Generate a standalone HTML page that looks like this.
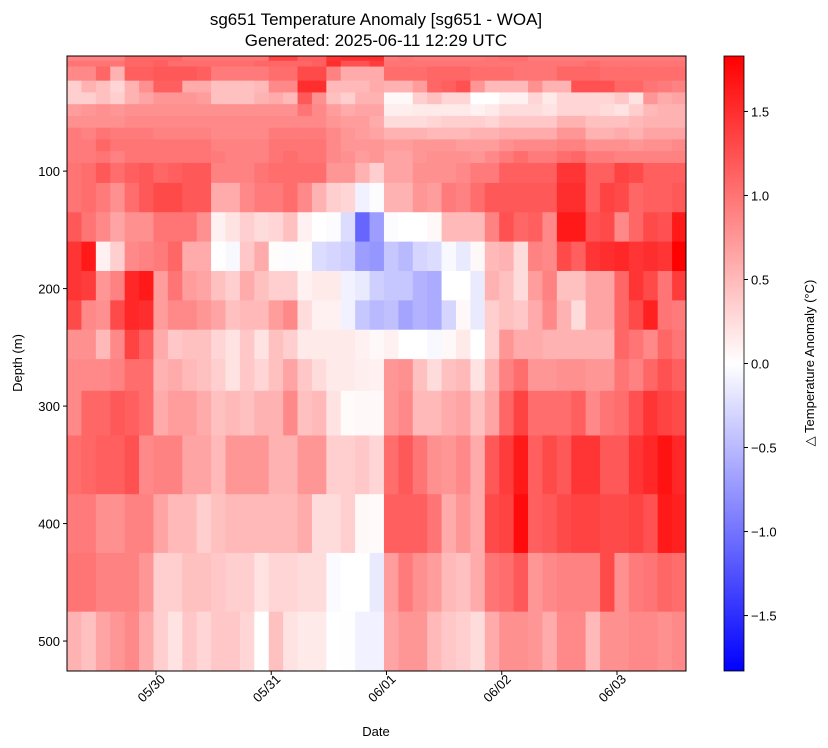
<!DOCTYPE html>
<html><head><meta charset="utf-8">
<style>
html,body{margin:0;padding:0;background:#fff;}
svg{display:block;font-family:"Liberation Sans","DejaVu Sans",sans-serif;}
</style></head>
<body>
<svg id="chart" width="828" height="748" viewBox="0 0 828 748">
  <text x="376" y="25" text-anchor="middle" font-size="17">sg651 Temperature Anomaly [sg651 - WOA]</text>
  <text x="376" y="46" text-anchor="middle" font-size="17">Generated: 2025-06-11 12:29 UTC</text>
  <g id="cells"></g>
  <rect x="67" y="56" width="619" height="615" fill="none" stroke="#000" stroke-width="1"/>
  <g id="xaxis"></g>
  <g id="yaxis"></g>
  <text x="376" y="736" text-anchor="middle" font-size="13">Date</text>
  <text transform="translate(22,363) rotate(-90)" text-anchor="middle" font-size="13">Depth (m)</text>
  <defs>
    <linearGradient id="bwr" x1="0" y1="1" x2="0" y2="0">
      <stop offset="0" stop-color="#0000ff"/>
      <stop offset="0.5" stop-color="#ffffff"/>
      <stop offset="1" stop-color="#ff0000"/>
    </linearGradient>
  </defs>
  <rect x="724" y="56" width="20" height="615" fill="url(#bwr)" stroke="#000" stroke-width="0.8"/>
  <g id="cbaxis"></g>
  <text transform="translate(814,363) rotate(-90)" text-anchor="middle" font-size="13">△ Temperature Anomaly (°C)</text>
</svg>
<script>
// time of first profile (days relative to 05/30 00:00) and profile spacing (days)
const timeStart = -0.772;
const timeStep = 0.125;
const dateTicks = [0, 1, 2, 3, 4];
const dateTickLabels = ["05/30", "05/31", "06/01", "06/02", "06/03"];
const depthEdges = [2,6,11,23,33,43,53,63,73,83,93,110,135,160,185,210,235,260,287,325,375,425,475,525];
const depthTicks = [100, 200, 300, 400, 500];
const cbTicks = [1.5, 1.0, 0.5, 0.0, -0.5, -1.0, -1.5];
const cbTickLabels = ["1.5", "1.0", "0.5", "0.0", "−0.5", "−1.0", "−1.5"];
const vmax = 1.83;
const anomaly = [
[.9,.9,.9,.9,1.1,1.1,1.1,1.1,1,1,1,1,1,1,1.35,1.35,1.15,1.15,1.45,1.5,1.5,1.5,.95,1,.95,.95,.95,.95,.95,1,1.05,1.05,.95,.95,.95,.95,.95,.95,.95,.95,.95,.95,.95],
[1,1,1,1,1.1,1.1,1.15,1.05,1.05,1.05,1.05,1.05,1.05,1.1,1.1,1.1,1.1,1.15,1.5,1.25,1.25,1.4,1,1,1,1,1,1,1,1,1,1,1,1,1,1,1.05,1,1,1,1,1,1],
[.85,.85,1.1,.55,1.15,1.15,1.2,1.2,1.2,1.15,.95,.95,.95,.95,1.05,1.05,1.3,1.3,.9,.6,.6,.6,1.05,1.05,1.05,1.1,1.1,1.1,1.05,1.05,1.05,1,1,1,1.1,1.1,1.1,1.05,1.05,1.05,1.05,1.05,1.05],
[.35,.55,.45,.3,.55,.8,1.15,1.15,.6,.6,.45,.45,.45,.5,.85,.85,1.5,1.5,.5,.5,.5,.6,.55,.55,.7,1.1,1.15,1.25,.75,.5,.5,.5,.8,.55,.55,1.25,1.25,1.25,1.1,1.1,1,.95,.9],
[.35,.35,.45,.35,.55,.65,.75,.75,.75,.7,.45,.45,.45,.55,.6,.5,1.2,.8,.45,.35,.55,.55,.05,.05,.35,.45,.3,.3,0,0,.1,.1,.3,.15,.3,.3,.3,.3,.4,.2,.75,.6,.65],
[.7,.75,.8,.75,.8,.8,.8,.8,.8,.8,.8,.8,.8,.8,.8,.8,1,.85,.7,.6,.65,.65,.12,.12,.15,.15,.15,.15,.1,.15,.25,.25,.25,.2,.3,.3,.3,.25,.2,.35,.5,.55,.55],
[.8,.8,.8,.8,.85,.85,.85,.85,.85,.85,.85,.85,.85,.85,.85,.85,.85,.85,.75,.7,.7,.6,.25,.25,.25,.3,.35,.35,.35,.3,.4,.4,.4,.4,.55,.55,.45,.45,.45,.5,.55,.55,.55],
[.95,.9,1,.95,.95,.95,.9,.9,.9,.9,.85,.85,.85,.85,.95,.95,.95,.95,.85,.75,.7,.65,.55,.55,.55,.5,.5,.5,.55,.55,.6,.6,.6,.6,.75,.75,.55,.55,.6,.55,.65,.65,.65],
[.95,.95,1.1,1,1,1,1,1,1,1,.9,.9,.9,.9,1,1,1,1,.85,.75,.75,.75,.7,.7,.75,.75,.75,.7,.7,.7,.8,.85,.85,.85,.9,.9,.8,.8,.8,.75,.8,.8,.85],
[.95,.95,1,.9,1,1,1,1,1,1,.95,.9,.9,.9,1,1.05,1,1,.85,.8,.7,.75,.65,.65,.75,.8,.8,.8,.75,.85,.95,1.05,.95,.95,1.05,1.1,.95,.95,.9,.9,.9,.9,.9],
[1,1.05,1.2,1.05,1.15,1.2,1.1,1.15,1.2,1.2,.9,.9,.9,1,1.05,1.05,1.05,1.05,.75,.75,.55,.35,.65,.65,.8,.8,.8,.85,.95,.95,1.15,1.15,1.15,1.15,1.45,1.45,1.15,1.15,1.35,1.3,1.15,1.15,1.15],
[1,1.05,.95,.8,1.05,1.2,1.3,1.3,1.2,1.2,.6,.6,.85,.95,.95,1.05,.85,.55,.35,.3,-.1,-.02,.55,.55,.75,.7,.95,.9,1.05,1.2,1.2,1.2,1.2,1.2,1.5,1.5,1.15,1.35,1.3,1.1,1.15,1.15,1.2],
[1.2,1,.85,.65,.8,.8,1,1,1,.8,.1,.2,.35,.25,.3,.45,.1,0,-.02,-.25,-1.1,-.7,-.02,0,0,.05,.5,.5,.5,.9,1.25,1.1,1.15,.85,1.65,1.65,1.25,1.3,.85,1.1,1.3,1.25,1.65],
[1.45,1.65,.1,.35,.85,.9,.95,1.1,.6,.6,0,-.05,.4,.6,.02,-.02,.02,-.25,-.3,-.35,-.7,-.75,-.4,-.5,-.3,-.25,-.05,-.15,.05,.5,.55,.25,.9,.85,1.3,1.15,1.45,1.5,1.55,1.45,1.5,1.45,1.85],
[1.45,1.4,.75,.9,1.55,1.65,.7,1,.7,.65,.45,.35,.6,.45,.35,.35,.1,.15,.15,-.1,-.15,-.35,-.4,-.4,-.55,-.6,0,0,-.15,.55,.45,.25,.7,.9,.45,.45,.65,.65,1.1,1.45,1.3,1,1.4],
[1.3,.85,.8,1.3,1.55,1.5,.7,.85,.85,.75,.65,.45,.5,.5,.7,.85,.25,.1,.1,-.1,-.4,-.5,-.45,-.65,-.55,-.6,-.3,.05,-.15,.35,.45,.4,.6,.85,.55,.25,.65,.65,1.1,1.3,1.6,1,.95],
[.8,.8,.5,.85,1.35,1.15,.6,.4,.45,.45,.3,.2,.4,.2,.45,.35,.15,.15,.15,.15,.1,.05,.1,0,0,-.05,.05,.15,0,.35,.75,.6,.6,.55,.55,.55,.55,.55,1.1,1,.85,1.1,1],
[.85,.85,.85,.9,1.05,1.05,.55,.6,.5,.45,.35,.2,.4,.3,.45,.65,.4,.25,.15,.15,.12,.1,.75,.8,.45,.25,.45,.5,.2,.55,.9,1.05,.75,.75,.8,.8,.75,.75,1,.9,1.1,1.25,1.15],
[.85,1.1,1.1,1.2,1.15,1.05,.6,.7,.7,.6,.45,.5,.45,.55,.55,.85,.45,.5,.2,.03,.05,.05,.75,.85,.5,.5,.6,.65,.45,.65,1.1,1.35,1.05,1.05,1.05,1.15,.85,1,1.05,1.25,1.45,1.35,1.3],
[1.05,1.1,1.15,1.15,1.25,.85,.9,.9,.65,.65,.5,.75,.75,.75,.55,.55,.75,.75,.35,.35,.4,.3,1.05,1.2,1,.8,.75,.85,.6,1.2,1.4,1.65,1.15,1.3,1.2,1.45,1.45,1.2,1.2,1.45,1.55,1.7,1.55],
[.95,.95,.8,.8,.9,.9,.65,.5,.5,.35,.45,.5,.5,.5,.5,.5,.6,.25,.25,.35,.05,.03,1.15,1.15,1.15,1,.6,.75,.6,1.3,1.35,1.75,1.15,1.2,1.3,1.35,1.35,1.3,1.3,1.35,1.25,1.65,1.6],
[1,1,.9,.9,.9,.75,.35,.35,.45,.45,.4,.35,.35,.2,.3,.3,.25,.25,-.03,0,0,-.15,.7,.95,.8,.7,.5,.45,.6,1,1.05,1.2,.75,.85,.9,.9,.9,1.3,.8,.95,1,1.1,1.05],
[.55,.45,.65,.75,.85,.6,.35,.2,.4,.3,.4,.4,.3,0,.45,.2,.15,.15,0,.01,-.1,-.1,.65,.75,.75,.5,.4,.35,.25,.6,.8,.8,.75,.6,.85,.85,.5,.8,.8,.85,.85,.8,.85]
];

const NS = "http://www.w3.org/2000/svg";
const plotL = 67, plotR = 686, plotT = 56, plotB = 671;
const depthMin = 2, depthMax = 525.5;
function xScale(t){ return 156 + t * 115.25; }
function yScale(d){ return plotT + (d - depthMin) / (depthMax - depthMin) * (plotB - plotT); }
function cbScale(v){ return 363.5 - v / vmax * 307.5; }
function bwr(v){
  let t = (v + vmax) / (2 * vmax);
  t = Math.max(0, Math.min(1, t));
  let r, g, b;
  if (t < 0.5){ r = 2 * t; g = 2 * t; b = 1; }
  else { r = 1; g = 2 * (1 - t); b = 2 * (1 - t); }
  return "rgb(" + Math.round(r*255) + "," + Math.round(g*255) + "," + Math.round(b*255) + ")";
}
function mk(tag, attrs, parent){
  const el = document.createElementNS(NS, tag);
  for (const k in attrs) el.setAttribute(k, attrs[k]);
  parent.appendChild(el);
  return el;
}

const cells = document.getElementById("cells");
for (let r = 0; r < anomaly.length; r++){
  const y0 = yScale(depthEdges[r]), y1 = yScale(depthEdges[r+1]);
  for (let c = 0; c < anomaly[r].length; c++){
    const x0 = xScale(timeStart + c * timeStep), x1 = xScale(timeStart + (c+1) * timeStep);
    const cx0 = Math.max(plotL, x0), cx1 = Math.min(plotR, x1);
    const rect = mk("rect", {x: cx0.toFixed(2), y: y0.toFixed(2), width: (cx1 - cx0 + 0.4).toFixed(2), height: (y1 - y0 + 0.4).toFixed(2), fill: bwr(anomaly[r][c])}, cells);
    
    
  }
}

const xaxis = document.getElementById("xaxis");
dateTicks.forEach((t, i) => {
  const x = xScale(t);
  const tick = mk("line", {x1: x, y1: plotB, x2: x, y2: plotB + 4, stroke: "#000", "stroke-width": 1}, xaxis);
  
  
  const lbl = mk("text", {transform: "translate(" + (x + 10) + "," + (plotB + 9) + ") rotate(-45)", "text-anchor": "end", "font-size": 13}, xaxis);
  lbl.textContent = dateTickLabels[i];
  
  
});

const yaxis = document.getElementById("yaxis");
depthTicks.forEach(d => {
  const y = yScale(d);
  const tick = mk("line", {x1: plotL - 4, y1: y, x2: plotL, y2: y, stroke: "#000", "stroke-width": 1}, yaxis);
  
  
  const lbl = mk("text", {x: plotL - 7, y: y + 5, "text-anchor": "end", "font-size": 13}, yaxis);
  lbl.textContent = String(d);
  
  
});

const cbaxis = document.getElementById("cbaxis");
cbTicks.forEach((v, i) => {
  const y = cbScale(v);
  const tick = mk("line", {x1: 744, y1: y, x2: 748, y2: y, stroke: "#000", "stroke-width": 1}, cbaxis);
  
  
  const lbl = mk("text", {x: 751, y: y + 5, "font-size": 13}, cbaxis);
  lbl.textContent = cbTickLabels[i];
  
  
});
</script>
</body></html>
